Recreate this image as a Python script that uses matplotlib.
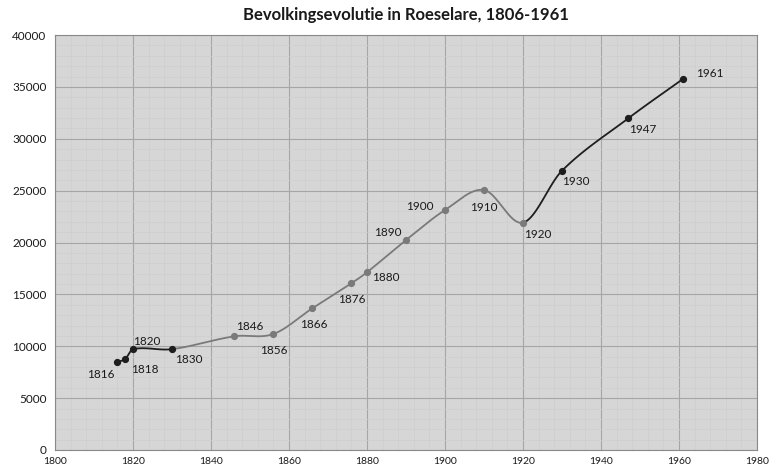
import numpy as np
import matplotlib
matplotlib.use("Agg")
import matplotlib.pyplot as plt
from matplotlib.ticker import MultipleLocator

# population of Roeselare
years = [1816, 1818, 1820, 1830, 1846, 1856, 1866, 1876, 1880,
         1890, 1900, 1910, 1920, 1930, 1947, 1961]
population = [8500, 8770, 9720, 9720, 10960, 11180, 13660, 16070, 17130,
              20240, 23130, 25060, 21910, 26920, 31970, 35760]
labels = [str(y) for y in years]

# label offsets in pixels (dx, dy) and alignment
offsets = {
    1816: (-3, -13, "right"), 1818: (6, -10, "left"), 1820: (0, 8, "left"),
    1830: (3, -10, "left"), 1846: (2, 10, "left"), 1856: (0, -16, "center"),
    1866: (1, -16, "center"), 1876: (0, -16, "center"), 1880: (5, -5, "left"),
    1890: (-4, 8, "right"), 1900: (-11, 4, "right"), 1910: (0, -17, "center"),
    1920: (1, -12, "left"), 1930: (0, -11, "left"), 1947: (1, -11, "left"),
    1961: (13, 5, "left"),
}
grey_years = [1846, 1856, 1866, 1876, 1880, 1890, 1900, 1910, 1920]

plt.rcParams["font.family"] = ["Lato", "DejaVu Sans"]

fig = plt.figure(figsize=(7.72, 4.71), dpi=100)
ax = fig.add_axes([55 / 772, 1 - 450 / 471, 702 / 772, 415 / 471])
ax.set_facecolor("#d6d6d6")


# smooth curve through the points (cubic Hermite, slopes from neighbours)
def smooth(xs, ys, n=40):
    x = np.asarray(xs, float)
    y = np.asarray(ys, float)
    m = np.empty_like(y)
    m[1:-1] = (y[2:] - y[:-2]) / (x[2:] - x[:-2])
    m[0] = (y[1] - y[0]) / (x[1] - x[0])
    m[-1] = (y[-1] - y[-2]) / (x[-1] - x[-2])
    px, py = [], []
    for i in range(len(x) - 1):
        h = x[i + 1] - x[i]
        t = np.linspace(0, 1, n)
        h00 = 2 * t ** 3 - 3 * t ** 2 + 1
        h10 = t ** 3 - 2 * t ** 2 + t
        h01 = -2 * t ** 3 + 3 * t ** 2
        h11 = t ** 3 - t ** 2
        px.append(x[i] + t * h)
        py.append(h00 * y[i] + h10 * h * m[i] + h01 * y[i + 1] + h11 * h * m[i + 1])
    return np.concatenate(px), np.concatenate(py)


cx, cy = smooth(years, population)
g0, g1 = 1830, 1920
dark = "#1e1e1e"
grey = "#7a7a7a"
ax.plot(cx[cx <= g0], cy[cx <= g0], color=dark, lw=1.3, zorder=3)
m = (cx >= g0) & (cx <= g1)
ax.plot(cx[m], cy[m], color=grey, lw=1.3, zorder=3)
ax.plot(cx[cx >= g1], cy[cx >= g1], color=dark, lw=1.3, zorder=3)

for yr, pop, lab in zip(years, population, labels):
    col = grey if yr in grey_years else dark
    ax.plot(yr, pop, "o", ms=4.2, color=col, zorder=4)
    dx, dy, ha = offsets[yr]
    ax.annotate(lab, (yr, pop), xytext=(dx, dy), textcoords="offset pixels",
                ha=ha, va="center", fontsize=8.5, color="#1a1a1a", zorder=5)

ax.set_xlim(1800, 1980)
ax.set_ylim(0, 40000)
ax.xaxis.set_major_locator(MultipleLocator(20))
ax.yaxis.set_major_locator(MultipleLocator(5000))
ax.xaxis.set_minor_locator(MultipleLocator(4))
ax.yaxis.set_minor_locator(MultipleLocator(1000))
ax.grid(which="major", color="#a6a6a6", lw=0.8)
ax.grid(which="minor", color="#cecece", lw=0.5)
ax.set_axisbelow(True)
ax.tick_params(which="both", length=0)
ax.tick_params(axis="y", pad=6, labelsize=8.5, colors="#1a1a1a")
ax.tick_params(axis="x", pad=5, labelsize=7.5, colors="#1a1a1a")
for s in ax.spines.values():
    s.set_color("#8a8a8a")
    s.set_linewidth(0.8)

fig.text(406 / 772, 1 - 15 / 471, "Bevolkingsevolutie in Roeselare, 1806-1961",
         ha="center", va="center", fontsize=12, fontweight="bold", color="#1a1a1a")

fig.savefig("out.png", dpi=100)
